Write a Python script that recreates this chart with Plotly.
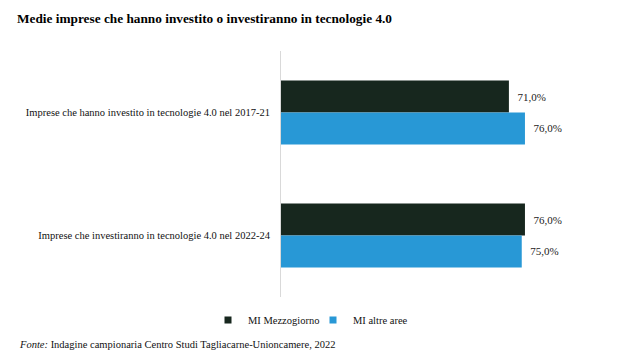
import plotly.graph_objects as go

categories = ["Imprese che hanno investito in tecnologie 4.0 nel 2017-21",
              "Imprese che investiranno in tecnologie 4.0 nel 2022-24"]
mezzogiorno = [71.0, 76.0]
altre_aree = [76.0, 75.0]
series_names = ["MI Mezzogiorno", "MI altre aree"]
colors = ["#17271e", "#2898d6"]

SERIF = "Liberation Serif"

def fmt(v):
    return "  " + f"{v:.1f}".replace(".", ",") + "%"

fig = go.Figure()
for name, vals, col in zip(series_names, [mezzogiorno, altre_aree], colors):
    fig.add_trace(go.Bar(
        y=categories, x=vals, name=name, orientation="h",
        marker=dict(color=col, line=dict(width=0)),
        text=[fmt(v) for v in vals], textposition="outside",
        textfont=dict(family=SERIF, size=11, color="#222222"),
        cliponaxis=False, showlegend=False,
    ))
# legend entries with small square swatches (one legend each for placement)
for name, col, lg in zip(series_names, colors, ["legend", "legend2"]):
    fig.add_trace(go.Scatter(
        x=[None], y=[None], mode="markers", name=name,
        marker=dict(symbol="square", size=7, color=col),
        showlegend=True, legend=lg,
    ))

leg_common = dict(orientation="h", xref="container", xanchor="left",
                  y=-(321 - 298) / 246, yanchor="middle",
                  font=dict(family=SERIF, size=10.5, color="#111111"),
                  itemwidth=30, bgcolor="rgba(0,0,0,0)")

fig.update_layout(
    width=630, height=353,
    barmode="group", bargap=0.48, bargroupgap=0,
    plot_bgcolor="white", paper_bgcolor="white",
    margin=dict(l=273, r=36, t=43, b=64, autoexpand=False),
    font=dict(family=SERIF, size=10.5, color="#111111"),
    showlegend=True,
    legend=dict(x=200 / 630, **leg_common),
    legend2=dict(x=305 / 630, **leg_common),
    title=dict(text="<b>Medie imprese che hanno investito o investiranno in tecnologie 4.0</b>",
               x=9 / 630, xref="container", xanchor="left",
               y=1 - 10 / 353, yref="container", yanchor="middle",
               font=dict(family=SERIF, size=13.3, color="#000000")),
)
fig.update_xaxes(range=[0, 100], showgrid=False, zeroline=False, showticklabels=False,
                 showline=False, automargin=False)
fig.update_yaxes(autorange="reversed", showline=True, linecolor="#d9d9d9", linewidth=1,
                 ticks="", ticklabelstandoff=8, automargin=False,
                 tickfont=dict(family=SERIF, size=10.5, color="#111111"))

fig.add_annotation(text="<i>Fonte:</i> Indagine campionaria Centro Studi Tagliacarne-Unioncamere, 2022",
                   xref="paper", yref="paper", x=-264 / 321, y=-(345 - 298) / 246,
                   xanchor="left", yanchor="middle", showarrow=False,
                   font=dict(family=SERIF, size=10.5, color="#111111"))

fig.write_html("out.html")
